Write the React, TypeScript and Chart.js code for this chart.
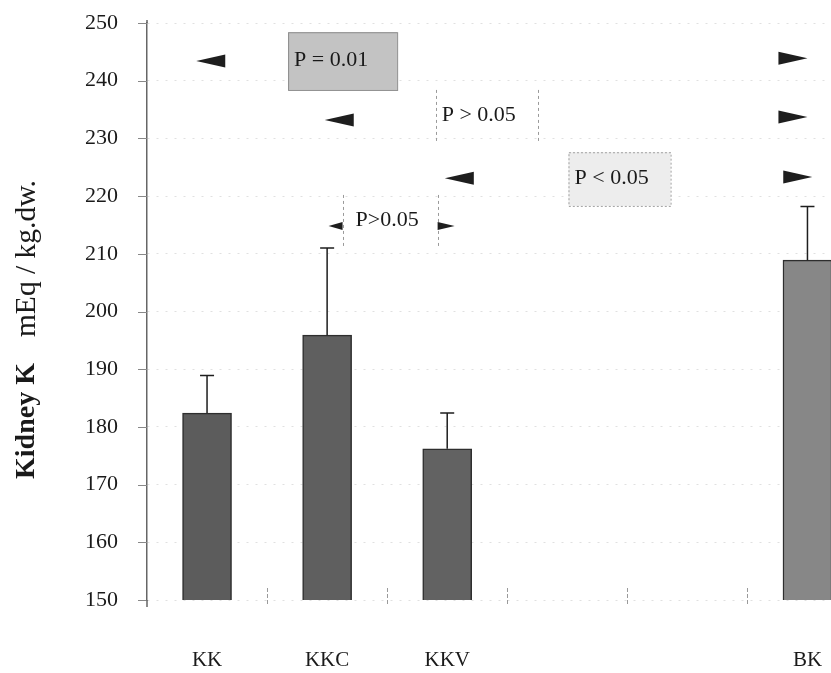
import React, { useEffect, useRef } from 'react';
import { Chart, registerables } from 'chart.js';

Chart.register(...registerables);

// ---- data ----
const categories = ['KK', 'KKC', 'KKV', '', '', 'BK'];
const barPositions = [0, 1, 2, 5];
const means = [182.4, 195.9, 176.2, 208.9];
const errorTops = [188.9, 211.0, 182.4, 218.2];
const barColors = ['#5c5c5c', '#5f5f5f', '#626262', '#878787'];
const yMin = 150;
const yMax = 250;
const yStep = 10;

// significance annotations (in category / value units)
const pBoxes = [
  { text: 'P = 0.01', x0: 0.675, x1: 1.583, y0: 248.4, y1: 238.4, kind: 'dark' },
  { text: 'P > 0.05', x0: 1.904, x1: 2.754, y0: 238.4, y1: 229.2, kind: 'dashed' },
  { text: 'P < 0.05', x0: 3.01, x1: 3.86, y0: 227.6, y1: 218.3, kind: 'light' },
  { text: 'P>0.05', x0: 1.129, x1: 1.92, y0: 220.2, y1: 211.2, kind: 'bracket' },
];
const leftArrows = [
  { x: -0.09, y: 243.4 },
  { x: 0.98, y: 233.2 },
  { x: 1.98, y: 223.1 },
];
const rightArrows = [
  { x: 5.0, y: 243.9 },
  { x: 5.0, y: 233.7 },
  { x: 5.04, y: 223.3 },
];
const smallLeftArrows = [{ x: 1.012, y: 214.8 }];
const smallRightArrows = [{ x: 2.062, y: 214.8 }];

const SERIF = '"Liberation Serif", "Times New Roman", serif';

const annotationPlugin = {
  id: 'annotations',
  afterDatasetsDraw(chart: any) {
    const { ctx, scales, chartArea } = chart;
    const xs = scales.x;
    const ys = scales.y;
    const px = (v: number) => xs.getPixelForValue(v);
    const py = (v: number) => ys.getPixelForValue(v);
    ctx.save();

    // y tick marks and small axis extensions
    ctx.strokeStyle = '#888';
    ctx.lineWidth = 1;
    ys.ticks.forEach((t: any) => {
      const y = Math.round(py(t.value)) + 0.5;
      ctx.beginPath();
      ctx.moveTo(chartArea.left - 9, y);
      ctx.lineTo(chartArea.left, y);
      ctx.stroke();
    });
    ctx.strokeStyle = '#666';
    ctx.lineWidth = 1.5;
    ctx.beginPath();
    ctx.moveTo(chartArea.left, chartArea.top - 3);
    ctx.lineTo(chartArea.left, chartArea.top);
    ctx.moveTo(chartArea.left, chartArea.bottom);
    ctx.lineTo(chartArea.left, chartArea.bottom + 7);
    ctx.stroke();

    // error bars
    ctx.strokeStyle = '#1e1e1e';
    ctx.lineWidth = 1.5;
    barPositions.forEach((p, i) => {
      const x = px(p);
      const yTop = py(errorTops[i]);
      const yBar = py(means[i]);
      ctx.beginPath();
      ctx.moveTo(x, yBar);
      ctx.lineTo(x, yTop);
      ctx.moveTo(x - 7, yTop);
      ctx.lineTo(x + 7, yTop);
      ctx.stroke();
    });

    // category separators along the base
    ctx.strokeStyle = '#9a9a9a';
    ctx.lineWidth = 1;
    ctx.setLineDash([4, 2]);
    for (let i = 0; i < categories.length - 1; i++) {
      const x = Math.round(px(i + 0.5)) + 0.5;
      ctx.beginPath();
      ctx.moveTo(x, py(yMin) - 12);
      ctx.lineTo(x, py(yMin) + 6);
      ctx.stroke();
    }
    ctx.setLineDash([]);

    // boxes
    pBoxes.forEach((b) => {
      const l = px(b.x0), r = px(b.x1), t = py(b.y0), bt = py(b.y1);
      if (b.kind === 'dark') {
        ctx.fillStyle = '#c3c3c3';
        ctx.fillRect(l, t, r - l, bt - t);
        ctx.strokeStyle = '#8c8c8c';
        ctx.lineWidth = 1;
        ctx.strokeRect(l + 0.5, t + 0.5, r - l, bt - t);
      } else if (b.kind === 'light') {
        ctx.fillStyle = '#ededed';
        ctx.fillRect(l, t, r - l, bt - t);
        ctx.strokeStyle = '#a0a0a0';
        ctx.lineWidth = 1;
        ctx.setLineDash([2, 2]);
        ctx.strokeRect(l + 0.5, t + 0.5, r - l, bt - t);
        ctx.setLineDash([]);
      } else {
        ctx.strokeStyle = '#9a9a9a';
        ctx.lineWidth = 1;
        ctx.setLineDash([3, 3]);
        ctx.beginPath();
        ctx.moveTo(Math.round(l) + 0.5, t);
        ctx.lineTo(Math.round(l) + 0.5, bt);
        ctx.moveTo(Math.round(r) + 0.5, t);
        ctx.lineTo(Math.round(r) + 0.5, bt);
        ctx.stroke();
        ctx.setLineDash([]);
      }
      ctx.fillStyle = '#1a1a1a';
      ctx.font = `22px ${SERIF}`;
      ctx.textAlign = 'left';
      ctx.textBaseline = 'middle';
      const off = b.kind === 'bracket' ? 13 : 6;
      ctx.fillText(b.text, l + off, (t + bt) / 2 - 1);
    });

    // triangles
    const tri = (tipX: number, y: number, dir: number, len: number, half: number) => {
      ctx.beginPath();
      ctx.moveTo(tipX, y);
      ctx.lineTo(tipX + dir * len, y - half);
      ctx.lineTo(tipX + dir * len, y + half);
      ctx.closePath();
      ctx.fill();
    };
    ctx.fillStyle = '#1e1e1e';
    leftArrows.forEach((a) => tri(px(a.x), py(a.y), 1, 29, 6.5));
    rightArrows.forEach((a) => tri(px(a.x), py(a.y), -1, 29, 6.5));
    smallLeftArrows.forEach((a) => tri(px(a.x), py(a.y), 1, 14, 4));
    smallRightArrows.forEach((a) => tri(px(a.x), py(a.y), -1, 17, 4));

    // y-axis title (mixed bold / normal)
    ctx.save();
    ctx.translate(27, 479);
    ctx.rotate(-Math.PI / 2);
    ctx.textAlign = 'left';
    ctx.textBaseline = 'middle';
    ctx.fillStyle = '#1a1a1a';
    ctx.font = `bold 28px ${SERIF}`;
    const t1 = 'Kidney K';
    ctx.fillText(t1, 0, 0);
    const w1 = ctx.measureText(t1).width;
    ctx.font = `29.5px ${SERIF}`;
    ctx.fillText('mEq / kg.dw.', w1 + 26, 0);
    ctx.restore();

    ctx.restore();
  },
};

export default function App() {
  const canvasRef = useRef<HTMLCanvasElement | null>(null);

  useEffect(() => {
    if (!canvasRef.current) return;
    const chart = new Chart(canvasRef.current, {
      type: 'bar',
      data: {
        datasets: [
          {
            data: barPositions.map((p, i) => ({ x: p, y: means[i] })),
            backgroundColor: barColors,
            borderColor: '#2e2e2e',
            borderWidth: 1.5,
            borderSkipped: false,
            barThickness: 49,
          },
        ],
      },
      options: {
        animation: false,
        responsive: false,
        layout: { padding: { top: 23, left: 0, right: 0, bottom: 0 } },
        plugins: { legend: { display: false }, tooltip: { enabled: false }, title: { display: false } },
        scales: {
          x: {
            type: 'linear',
            offset: false,
            min: -0.5,
            max: 5.196,
            afterBuildTicks: (s: any) => {
              s.ticks = categories.map((_, i) => ({ value: i }));
            },
            afterFit: (s: any) => {
              s.height = 73;
            },
            grid: {
              display: true,
              drawOnChartArea: false,
              drawTicks: true,
              tickLength: 48,
              tickColor: 'rgba(0,0,0,0)',
              color: 'rgba(0,0,0,0)',
              offset: false,
            },
            border: { display: false },
            ticks: {
              autoSkip: false,
              maxRotation: 0,
              minRotation: 0,
              padding: 0,
              color: '#1a1a1a',
              font: { family: SERIF, size: 21 },
              callback: (v: any) => categories[v] ?? '',
            },
          },
          y: {
            min: yMin,
            max: yMax,
            afterFit: (s: any) => {
              s.width = 147;
            },
            ticks: {
              stepSize: yStep,
              padding: 0,
              color: '#1a1a1a',
              font: { family: SERIF, size: 22 },
            },
            grid: {
              color: 'rgba(0,0,0,0.12)',
              lineWidth: 1,
              tickLength: 29,
              tickColor: 'rgba(0,0,0,0)',
            },
            border: { display: true, color: '#666', width: 1.5, dash: [2, 7] },
          },
        },
      },
      plugins: [
        {
          id: 'bg',
          beforeDraw(c: any) {
            const { ctx, width, height } = c;
            ctx.save();
            ctx.fillStyle = '#ffffff';
            ctx.fillRect(0, 0, width, height);
            ctx.restore();
          },
        },
        annotationPlugin,
      ],
    } as any);
    return () => chart.destroy();
  }, []);

  return (
    <div style={{ position: 'absolute', left: 0, top: 0, width: 831, height: 673, overflow: 'hidden', background: '#fff' }}>
      <canvas ref={canvasRef} width={831} height={673} style={{ width: 831, height: 673, display: 'block' }} />
    </div>
  );
}
